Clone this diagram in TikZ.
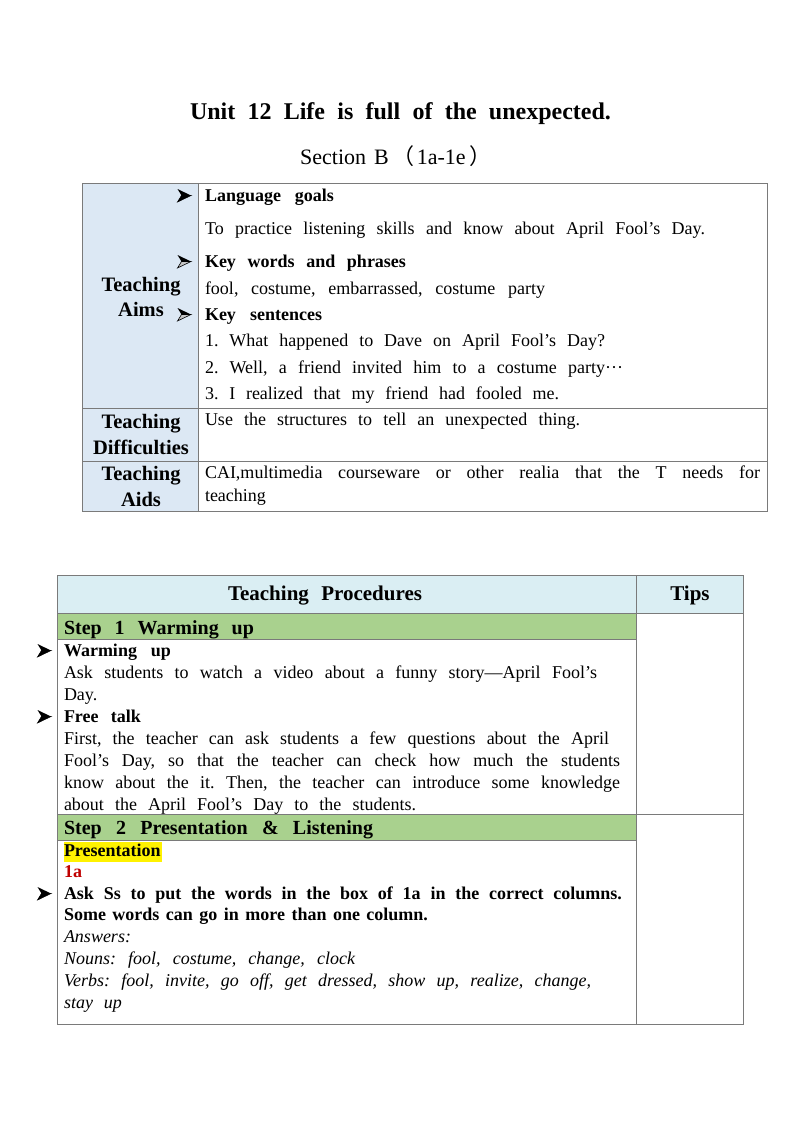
\documentclass[tikz,border=0pt]{standalone}
\usepackage{fontspec}
\setmainfont{Liberation Serif}
\newfontfamily\cjkfont{Noto Sans CJK SC}
\definecolor{hdrblue}{HTML}{DAEEF3}
\definecolor{aimblue}{HTML}{DCE8F4}
\definecolor{stepgreen}{HTML}{A9D18E}
\definecolor{rule}{HTML}{7A7A7A}
\definecolor{darkred}{HTML}{C00000}
\frenchspacing
\newcommand\bodyfont{\fontsize{18}{21}\selectfont}
\newcommand\labfont{\fontsize{20.5}{24}\selectfont\bfseries}
\newcommand\stepfont{\fontsize{20}{24}\selectfont\bfseries}
% justified line: name, x, baseline y, width, text
\newcommand\jl[5]{\node[txt] (#1) at (#2,#3) {\bodyfont\makebox[#4pt][s]{#5}};}
\newcommand\pl[4]{\node[txt] (#1) at (#2,#3) {\bodyfont #4};}
% 3D arrowhead bullet: name, x, y (centre), colour of lower half
\newcommand\arrowmark[4]{%
  \coordinate (#1) at (#2,#3);
  \fill[black] ([shift={(-6.5,-6.5)}]#1) -- ([shift={(7,0)}]#1) -- ([shift={(-2.5,0)}]#1) -- cycle;
  \filldraw[fill=#4,draw=black,line width=0.6pt,line join=miter]
    ([shift={(-6.5,6.5)}]#1) -- ([shift={(7,0)}]#1) -- ([shift={(-2.5,0)}]#1) -- cycle;}
\begin{document}
\begin{tikzpicture}[x=1pt,y=-1pt,
  txt/.style={anchor=base west,inner sep=0pt,outer sep=0pt},
  lab/.style={anchor=base,inner sep=0pt,outer sep=0pt,font=\labfont},
  grid/.style={draw=rule,line width=1.0pt}]
\useasboundingbox (0,0) rectangle (800,1132);
\fill[white] (0,0) rectangle (800,1132);

% ---------- title ----------
\node[anchor=base,inner sep=0pt] (title) at (400.5,119)
  {\fontsize{24}{28}\selectfont\bfseries\makebox[421pt][s]{Unit 12 Life is full of the unexpected.}};
\node[anchor=base west,inner sep=0pt] (subtitle) at (300,164)
  {\fontsize{22}{26}\selectfont Section\hspace{8pt}B\hspace{4pt}{\cjkfont （}\hspace{2pt}1a-1e\hspace{4pt}{\cjkfont ）}};

% ---------- top table ----------
\fill[aimblue] (82,183) rectangle (198,511);
\draw[grid] (82,183) rectangle (767,511);
\draw[grid] (198,183) -- (198,511);
\draw[grid] (82,408) -- (767,408);
\draw[grid] (82,461) -- (767,461);

\node[lab] (ta1) at (141,291) {Teaching};
\node[lab] (ta2) at (141,316) {Aims};
\node[lab] (td1) at (141,428) {Teaching};
\node[lab] (td2) at (141,454) {Difficulties};
\node[lab] (tc1) at (141,480) {Teaching};
\node[lab] (tc2) at (141,506) {Aids};

\arrowmark{ab1}{184}{195.5}{black}
\arrowmark{ab2}{184}{261.5}{gray!45}
\arrowmark{ab3}{184}{314.5}{gray!45}

\node[txt] (lg) at (205,201) {\bodyfont\bfseries\makebox[129pt][s]{Language goals}};
\jl{lg1}{205}{234}{500}{To practice listening skills and know about April Fool’s Day.}
\node[txt] (kw) at (205,267) {\bodyfont\bfseries\makebox[201pt][s]{Key words and phrases}};
\jl{kw1}{205}{294}{340}{fool, costume, embarrassed, costume party}
\node[txt] (ks) at (205,320) {\bodyfont\bfseries\makebox[117pt][s]{Key sentences}};
\jl{ks1}{205}{346}{400}{1. What happened to Dave on April Fool's Day?}
\jl{ks2}{205}{373}{418}{2. Well, a friend invited him to a costume party···}
\jl{ks3}{205}{399}{354}{3. I realized that my friend had fooled me.}
\jl{dif}{205}{425}{375}{Use the structures to tell an unexpected thing.}
\jl{aid1}{205}{478}{555}{CAI,multimedia courseware or other realia that the T needs for}
\pl{aid2}{205}{501}{teaching}

% ---------- procedures table ----------
\fill[hdrblue] (57,575) rectangle (743,613);
\fill[stepgreen] (57,613) rectangle (636,639);
\fill[stepgreen] (57,814) rectangle (636,840);
\draw[grid] (57,575) rectangle (743,1024);
\draw[grid] (636,575) -- (636,1024);
\draw[grid] (57,613) -- (743,613);
\draw[grid] (57,639) -- (636,639);
\draw[grid] (57,814) -- (743,814);
\draw[grid] (57,840) -- (636,840);

\node[txt] (tp) at (228,600) {\fontsize{21}{24}\selectfont\bfseries\makebox[194pt][s]{Teaching Procedures}};
\node[lab,font=\fontsize{21}{24}\selectfont\bfseries] (tips) at (690,600) {Tips};
\node[txt] (s1) at (64,634) {\stepfont\makebox[190pt][s]{Step 1 Warming up}};
\node[txt] (s2) at (64,834) {\stepfont\makebox[309pt][s]{Step 2 Presentation \& Listening}};

\arrowmark{pb1}{44}{650.5}{black}
\arrowmark{pb2}{44}{716.5}{black}
\arrowmark{pb3}{44}{893.5}{black}

\node[txt] (wu) at (64,656) {\bodyfont\bfseries\makebox[107pt][s]{Warming up}};
\jl{wu1}{64}{678}{533}{Ask students to watch a video about a funny story—April Fool’s}
\pl{wu2}{64}{700}{Day.}
\node[txt] (ft) at (64,722) {\bodyfont\bfseries\makebox[77pt][s]{Free talk}};
\jl{ft1}{64}{744}{545}{First, the teacher can ask students a few questions about the April}
\jl{ft2}{64}{766}{556}{Fool’s Day, so that the teacher can check how much the students}
\jl{ft3}{64}{788}{556}{know about the it. Then, the teacher can introduce some knowledge}
\jl{ft4}{64}{810}{352}{about the April Fool’s Day to the students.}

\fill[yellow] (64,842) rectangle (162,862);
\node[txt] (pr) at (64,856) {\bodyfont\bfseries Presentation};
\node[txt] (one) at (64,877) {\bodyfont\bfseries\color{darkred}1a};
\node[txt] (ask1) at (64,899) {\bodyfont\bfseries\makebox[558pt][s]{Ask Ss to put the words in the box of 1a in the correct columns.}};
\node[txt] (ask2) at (64,920) {\bodyfont\bfseries\makebox[364pt][s]{Some words can go in more than one column.}};
\node[txt] (ans) at (64,942) {\bodyfont\itshape Answers:};
\node[txt] (nouns) at (64,964) {\bodyfont\itshape\makebox[291pt][s]{Nouns: fool, costume, change, clock}};
\node[txt] (verbs) at (64,986) {\bodyfont\itshape\makebox[527pt][s]{Verbs: fool, invite, go off, get dressed, show up, realize, change,}};
\node[txt] (stay) at (64,1008) {\bodyfont\itshape\makebox[58pt][s]{stay up}};
\end{tikzpicture}
\end{document}
